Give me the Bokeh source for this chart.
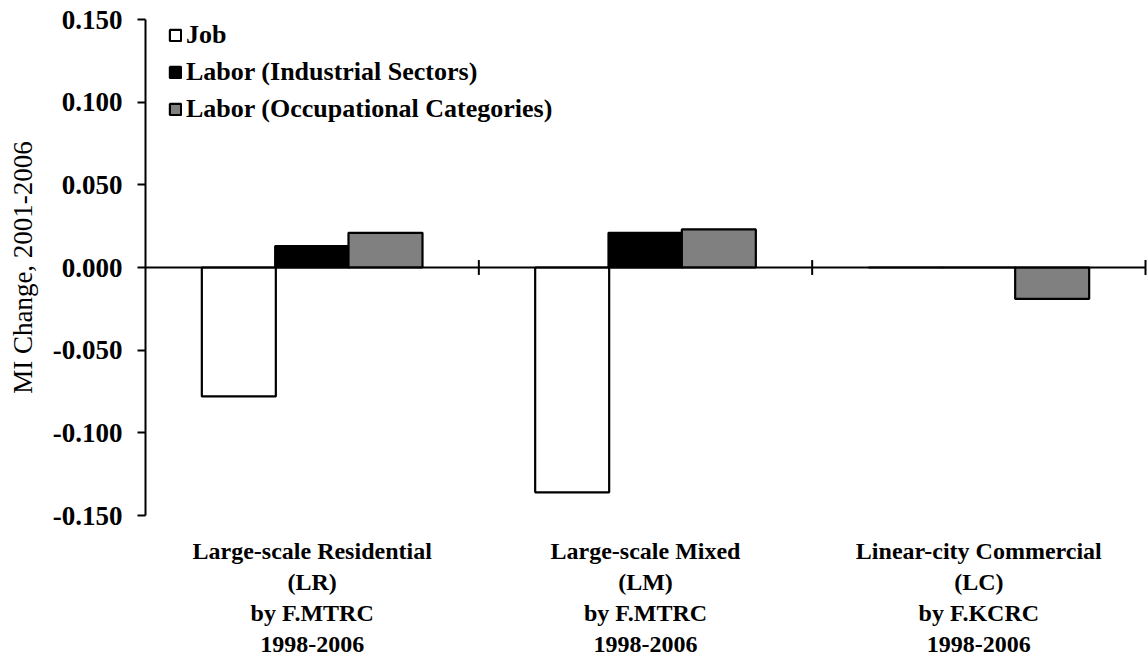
from bokeh.plotting import figure
from bokeh.models import (Range1d, FixedTicker, NumeralTickFormatter, ColumnDataSource,
                          Legend, LegendItem)
from bokeh.embed import file_html
from bokeh.resources import INLINE

categories = ["Large-scale Residential\n(LR)\nby F.MTRC\n1998-2006",
              "Large-scale Mixed\n(LM)\nby F.MTRC\n1998-2006",
              "Linear-city Commercial\n(LC)\nby F.KCRC\n1998-2006"]
series_names = ["Job", "Labor (Industrial Sectors)", "Labor (Occupational Categories)"]
job = [-0.078, -0.136, 0.0]
labor_ind = [0.013, 0.021, 0.0]
labor_occ = [0.021, 0.023, -0.019]
y_ticks = [-0.15, -0.10, -0.05, 0.0, 0.05, 0.10, 0.15]

fills = ["white", "black", "#808080"]
series_values = [job, labor_ind, labor_occ]

n = len(categories)
p = figure(width=1148, height=660, output_backend="svg", toolbar_location=None,
           x_range=Range1d(0, n + 0.006), y_range=Range1d(-0.15, 0.15),
           min_border_left=145, min_border_top=19, min_border_right=1, min_border_bottom=143)
p.outline_line_color = None
p.grid.visible = False

bar_w = 0.222
offsets = [0.28, 0.50, 0.72]
renderers = []
for vals, off, col in zip(series_values, offsets, fills):
    xs = [i + off for i in range(n)]
    src = ColumnDataSource(dict(x=xs, top=vals))
    r = p.vbar(x="x", top="top", bottom=0, width=bar_w, source=src,
               fill_color=col, line_color="black", line_width=2.2)
    renderers.append(r)

# zero (category) axis line and boundary ticks
p.segment(x0=[0], y0=[0], x1=[n], y1=[0], line_color="black", line_width=2)
bounds = list(range(1, n + 1))
p.segment(x0=bounds, y0=[-0.0045] * n, x1=bounds, y1=[0.0045] * n,
          line_color="black", line_width=2)

# y axis
ya = p.yaxis[0]
ya.ticker = FixedTicker(ticks=y_ticks)
ya.formatter = NumeralTickFormatter(format="0.000")
ya.minor_tick_line_color = None
ya.major_tick_in = 0
ya.major_tick_out = 8
ya.major_tick_line_width = 2
ya.axis_line_width = 2
ya.major_label_text_font = "Liberation Serif"
ya.major_label_text_font_style = "bold"
ya.major_label_text_font_size = "27px"
ya.major_label_text_color = "black"
ya.major_label_standoff = 15
ya.axis_label = "MI Change, 2001-2006"
ya.axis_label_text_font = "Liberation Serif"
ya.axis_label_text_font_style = "normal"
ya.axis_label_text_font_size = "27px"
ya.axis_label_text_color = "black"
ya.axis_label_standoff = 12

# x axis (labels only)
xa = p.xaxis[0]
xa.ticker = FixedTicker(ticks=[i + 0.5 for i in range(n)])
xa.major_label_overrides = {i + 0.5: c for i, c in enumerate(categories)}
xa.axis_line_color = None
xa.major_tick_line_color = None
xa.minor_tick_line_color = None
xa.major_label_standoff = 16
xa.major_label_text_font = "Liberation Serif"
xa.major_label_text_font_style = "bold"
xa.major_label_text_font_size = "24px"
xa.major_label_text_color = "black"
xa.major_label_text_align = "center"

legend = Legend(items=[LegendItem(label=nm, renderers=[r]) for nm, r in zip(series_names, renderers)],
                location=(23, 391))
legend.background_fill_alpha = 0
legend.border_line_color = None
legend.margin = 0
legend.padding = 0
legend.spacing = 7
legend.glyph_width = 14
legend.glyph_height = 14
legend.label_standoff = 4
legend.label_text_font = "Liberation Serif"
legend.label_text_font_style = "bold"
legend.label_text_font_size = "26px"
legend.label_text_color = "black"
p.add_layout(legend)

open("out.html", "w").write(file_html(p, INLINE))
